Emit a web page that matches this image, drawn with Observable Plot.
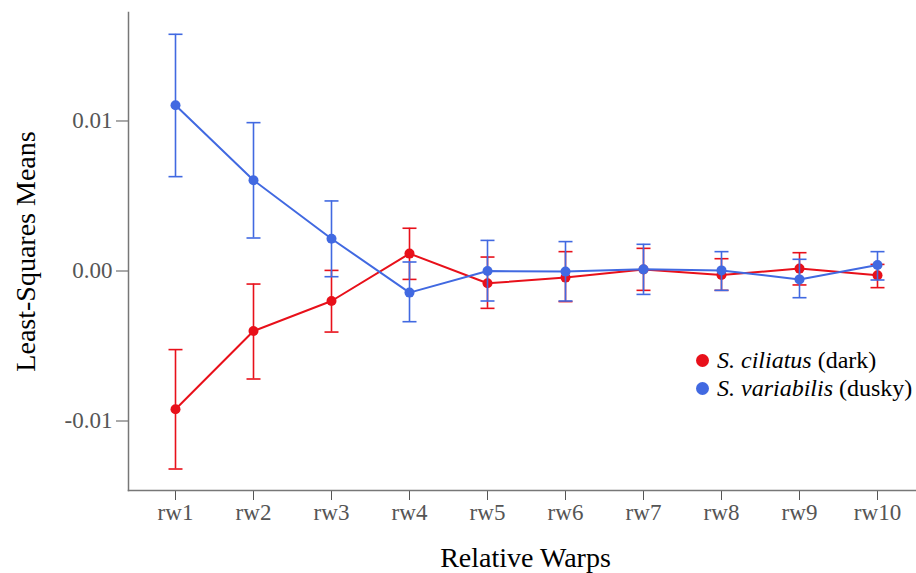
<!DOCTYPE html>
<html><head><meta charset="utf-8">
<script src="https://cdn.jsdelivr.net/npm/d3@7"></script>
<script src="https://cdn.jsdelivr.net/npm/@observablehq/plot@0.6"></script>
<style>
body{margin:0;background:#fff;}
#wrap{position:relative;width:916px;height:573px;}
#legend{position:absolute;left:696px;top:346px;font-family:"Liberation Serif","Times New Roman",serif;font-size:24px;color:#000;}
.row{display:flex;align-items:center;height:28px;white-space:nowrap;}
.sw{width:13px;height:13px;border-radius:50%;margin-right:8px;flex:none;}
</style></head><body><div id="wrap"></div>
<script>
const categories = ["rw1","rw2","rw3","rw4","rw5","rw6","rw7","rw8","rw9","rw10"];
const speciesNames = ["S. ciliatus", "S. variabilis"];
const speciesNotes = ["(dark)", "(dusky)"];
const speciesColors = ["#e8101a", "#4169e1"];
const ciliatusMean  = [-0.00922, -0.0040, -0.0020, 0.00116, -0.00082, -0.00044, 0.0001, -0.00027, 0.00016, -0.00029];
const ciliatusLower = [-0.0132, -0.0072, -0.00407, -0.00056, -0.00249, -0.00204, -0.00129, -0.00129, -0.00093, -0.00111];
const ciliatusUpper = [-0.00524, -0.00087, 0.00004, 0.00285, 0.00093, 0.00129, 0.00151, 0.00082, 0.00122, 0.00044];
const variabilisMean  = [0.01105, 0.00605, 0.00215, -0.00144, 0.0, -0.00004, 0.00011, 0.00004, -0.00056, 0.0004];
const variabilisLower = [0.00629, 0.0022, -0.00038, -0.00338, -0.002, -0.002, -0.00156, -0.00129, -0.00178, -0.0006];
const variabilisUpper = [0.01578, 0.00989, 0.00467, 0.0006, 0.00204, 0.00196, 0.00178, 0.00129, 0.00078, 0.00129];
const yTicks = [-0.01, 0, 0.01];
const yDomain = [-0.014633, 0.017233];
const xTitle = "Relative Warps";
const yTitle = "Least-Squares Means";

const rows = (species, m, lo, hi) => categories.map((c, i) => ({rw: c, species, mean: m[i], lo: lo[i], hi: hi[i]}));
const red = rows(speciesNames[0], ciliatusMean, ciliatusLower, ciliatusUpper);
const blue = rows(speciesNames[1], variabilisMean, variabilisLower, variabilisUpper);

// horizontal cap symbol for error bars
const capSymbol = {draw(context) { context.moveTo(-7, 0); context.lineTo(7, 0); }};

const seriesMarks = (d) => [
  Plot.ruleX(d, {x: "rw", y1: "lo", y2: "hi", stroke: "species", strokeWidth: 1.6}),
  Plot.dot(d, {x: "rw", y: "lo", stroke: "species", fill: "none", symbol: capSymbol, strokeWidth: 1.6}),
  Plot.dot(d, {x: "rw", y: "hi", stroke: "species", fill: "none", symbol: capSymbol, strokeWidth: 1.6}),
  Plot.line(d, {x: "rw", y: "mean", stroke: "species", strokeWidth: 2}),
  Plot.dot(d, {x: "rw", y: "mean", fill: "species", r: 5})
];

const chart = Plot.plot({
  width: 916, height: 573,
  marginLeft: 128, marginRight: 0, marginTop: 12, marginBottom: 83,
  style: {fontFamily: "'Liberation Serif', 'Times New Roman', serif", fontSize: "23px", color: "#555", background: "#fff", overflow: "visible"},
  x: {type: "point", domain: categories, range: [175, 877], padding: 0, label: null, tickSize: 10, tickPadding: 3},
  y: {domain: yDomain, range: [490, 12], ticks: yTicks, tickFormat: d => d.toFixed(2), label: null, tickSize: 12, tickPadding: 4},
  color: {domain: speciesNames, range: speciesColors},
  marks: [
    Plot.frame({anchor: "left", stroke: "#777", strokeWidth: 1.5}),
    Plot.frame({anchor: "bottom", stroke: "#777", strokeWidth: 1.5}),
    ...seriesMarks(red),
    ...seriesMarks(blue),
    Plot.text([xTitle], {text: d => d, frameAnchor: "bottom", textAnchor: "middle", lineAnchor: "middle", dy: 68, dx: 3, fontSize: 28, fill: "#000"}),
    Plot.text([yTitle], {text: d => d, frameAnchor: "left", textAnchor: "middle", lineAnchor: "middle", rotate: -90, dx: -102, fontSize: 28, fill: "#000"})
  ]
});
const wrap = document.getElementById("wrap");
wrap.appendChild(chart);
const legend = document.createElement("div");
legend.id = "legend";
speciesNames.forEach((name, i) => {
  const row = document.createElement("div");
  row.className = "row";
  const sw = document.createElement("span");
  sw.className = "sw";
  sw.style.background = speciesColors[i];
  const t = document.createElement("span");
  const it = document.createElement("i");
  it.textContent = name;
  t.appendChild(it);
  t.appendChild(document.createTextNode(" " + speciesNotes[i]));
  row.appendChild(sw);
  row.appendChild(t);
  legend.appendChild(row);
});
wrap.appendChild(legend);
</script>
</body></html>
